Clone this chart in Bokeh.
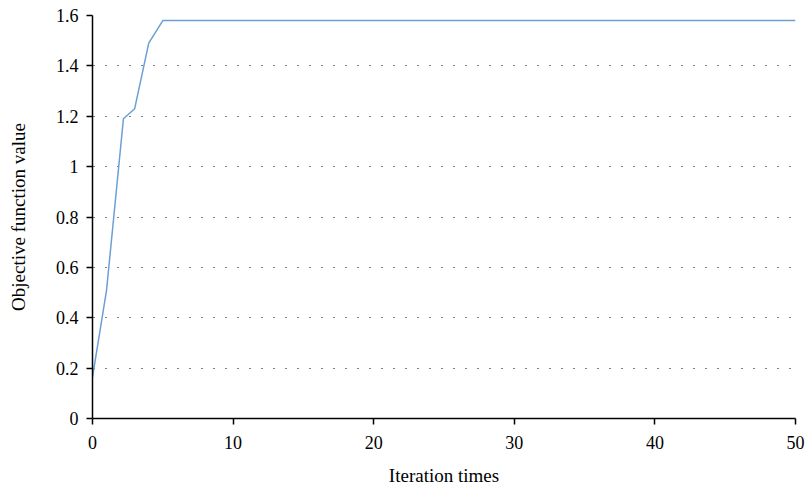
from bokeh.plotting import figure
from bokeh.models import Range1d, FixedTicker
from bokeh.embed import file_html
from bokeh.resources import INLINE

iterations = [0, 1, 2.2, 3, 4, 5] + list(range(6, 51))
objective = [0.164, 0.51, 1.19, 1.23, 1.49, 1.58] + [1.58] * 45

x_ticks = [0, 10, 20, 30, 40, 50]
x_labels = ["0", "10", "20", "30", "40", "50"]
y_ticks = [0, 0.2, 0.4, 0.6, 0.8, 1.0, 1.2, 1.4, 1.6]
y_labels = ["0", "0.2", "0.4", "0.6", "0.8", "1", "1.2", "1.4", "1.6"]

FONT = "Liberation Serif"

p = figure(width=808, height=490, output_backend="svg", toolbar_location=None,
           x_range=Range1d(0, 50), y_range=Range1d(0, 1.6),
           min_border_left=92, min_border_right=13, min_border_top=15, min_border_bottom=72)

p.line(iterations, objective, line_color="#6a9fd8", line_width=1.5)

p.outline_line_color = None
p.xgrid.grid_line_color = None
p.ygrid.grid_line_color = "black"
p.ygrid.grid_line_dash = "1 11"
p.ygrid.grid_line_dash_offset = 11
p.ygrid.grid_line_width = 1.2

for ax, ticks, labels in ((p.xaxis[0], x_ticks, x_labels), (p.yaxis[0], y_ticks, y_labels)):
    ax.ticker = FixedTicker(ticks=ticks)
    ax.major_label_overrides = {t: l for t, l in zip(ticks, labels)}
    ax.minor_tick_line_color = None
    ax.major_tick_in = 0
    ax.major_tick_out = 6
    ax.axis_line_color = "black"
    ax.axis_line_width = 1.5
    ax.major_tick_line_width = 1.5
    ax.major_label_text_font = FONT
    ax.major_label_text_font_size = "18px"
    ax.major_label_text_color = "black"
    ax.axis_label_text_font = FONT
    ax.axis_label_text_font_size = "19px"
    ax.axis_label_text_font_style = "normal"
    ax.axis_label_text_color = "black"

p.xaxis.axis_label = "Iteration times"
p.yaxis.axis_label = "Objective function value"
p.xaxis.major_label_standoff = 11
p.xaxis.axis_label_standoff = 13
p.yaxis.major_label_standoff = 8
p.yaxis.axis_label_standoff = 24

open("out.html", "w").write(file_html(p, INLINE))
